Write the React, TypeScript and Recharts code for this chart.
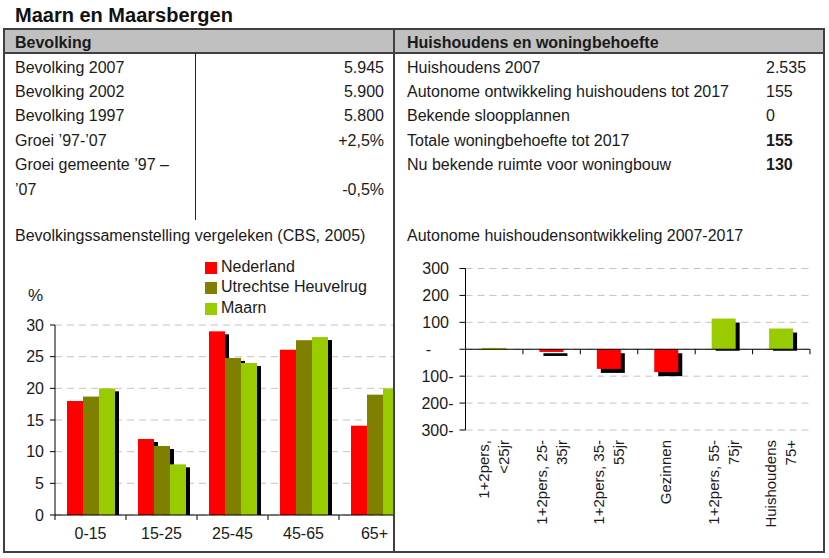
import React from 'react';
import { Bar, BarChart, CartesianGrid, Cell, ReferenceLine, XAxis, YAxis } from 'recharts';

const FONT = '"Liberation Sans", Arial, sans-serif';

// tabel Bevolking
const BEV_LABELS = ['Bevolking 2007', 'Bevolking 2002', 'Bevolking 1997', 'Groei ’97-’07', 'Groei gemeente ’97 –', '’07'];
const BEV_VALUES = ['5.945', '5.900', '5.800', '+2,5%', '', '-0,5%'];

// tabel Huishoudens en woningbehoefte
const HH_LABELS = [
  'Huishoudens 2007',
  'Autonome ontwikkeling huishoudens tot 2017',
  'Bekende sloopplannen',
  'Totale woningbehoefte tot 2017',
  'Nu bekende ruimte voor woningbouw',
];
const HH_VALUES = ['2.535', '155', '0', '155', '130'];
const HH_BOLD = [false, false, false, true, true];

// bevolkingssamenstelling (%)
const AGE_GROUPS = ['0-15', '15-25', '25-45', '45-65', '65+'];
const NEDERLAND = [18, 12, 29, 26.1, 14.1];
const HEUVELRUG = [18.7, 10.9, 24.8, 27.6, 19];
const MAARN = [20, 8, 24, 28.1, 20];
const PCT_TICKS = [0, 5, 10, 15, 20, 25, 30];

// autonome huishoudensontwikkeling
const HH_GROUPS = ['1+2pers,\n<25jr', '1+2pers, 25-\n35jr', '1+2pers, 35-\n55jr', 'Gezinnen', '1+2pers, 55-\n75jr', 'Huishoudens\n75+'];
const HH_CHANGE = [5, -10, -73, -85, 114, 77];
const HH_TICKS = [-300, -200, -100, 0, 100, 200, 300];

const RED = '#ff0000';
const OLIVE = '#808000';
const GREEN = '#99cc00';
const GRID = '#c4c4c4';
const BORDER = '#404040';

const LEFT_BAND = 71;
const RIGHT_BAND = 57.4;
const RIGHT_PLOT_H = 161.5;

const ageData = AGE_GROUPS.map((cat, i) => ({ cat, nl: NEDERLAND[i], uh: HEUVELRUG[i], maarn: MAARN[i] }));
const hhData = HH_GROUPS.map((cat, i) => ({ cat, v: HH_CHANGE[i] }));

// staaf met zwarte schaduw rechtsonder; baseOver = hoeveel de schaduw onder de basislijn mag komen (positieve staven)
function ShadowBar(props: any) {
  const { x, y, width, height, fill, dx, dy, up, baseOver } = props;
  if (x == null || y == null) return null;
  const top = Math.min(y, y + height);
  const h = Math.abs(height);
  const sh = up ? Math.max(0, h - dy + baseOver) : h;
  return (
    <g>
      <rect x={x + dx} y={top + dy} width={width} height={sh} fill="#000" />
      <rect x={x} y={top} width={width} height={h} fill={fill} />
    </g>
  );
}

function AgeTick(props: any) {
  const { x, y, payload, index } = props;
  return (
    <g>
      <line x1={x - LEFT_BAND / 2} x2={x - LEFT_BAND / 2} y1={y} y2={y + 5} stroke="#000" />
      {index === AGE_GROUPS.length - 1 && (
        <line x1={x + LEFT_BAND / 2} x2={x + LEFT_BAND / 2} y1={y} y2={y + 5} stroke="#000" />
      )}
      <text x={x} y={y + 24} textAnchor="middle" fontSize={16} fill="#1a1a1a" fontFamily={FONT}>
        {payload.value}
      </text>
    </g>
  );
}

function HhTick(props: any) {
  const { x, y, payload, index } = props;
  const lines = String(payload.value).split('\n');
  const zeroY = y - RIGHT_PLOT_H / 2;
  const cy = y + 10;
  const first = lines.length === 1 ? 5 : -5;
  return (
    <g>
      <line x1={x - RIGHT_BAND / 2} x2={x - RIGHT_BAND / 2} y1={zeroY} y2={zeroY + 5} stroke="#000" />
      {index === HH_GROUPS.length - 1 && (
        <line x1={x + RIGHT_BAND / 2} x2={x + RIGHT_BAND / 2} y1={zeroY} y2={zeroY + 5} stroke="#000" />
      )}
      <text x={x} y={cy} transform={`rotate(-90, ${x}, ${cy})`} textAnchor="end" fontSize={15} fill="#1a1a1a" fontFamily={FONT}>
        {lines.map((line, i) => (
          <tspan key={i} x={x} dy={i === 0 ? first : 20}>
            {line}
          </tspan>
        ))}
      </text>
    </g>
  );
}

function HhYTick(props: any) {
  const { x, y, payload } = props;
  const v = payload.value;
  let label = String(v);
  let tx = x - 4.5;
  let anchor: 'end' | 'middle' = 'end';
  if (v < 0) {
    label = `${-v}-`;
    tx = x;
  } else if (v === 0) {
    label = '-';
    tx = x - 25;
    anchor = 'middle';
  }
  return (
    <text x={tx} y={y} dy={5.5} textAnchor={anchor} fontSize={16} fill="#1a1a1a" fontFamily={FONT}>
      {label}
    </text>
  );
}

const abs = (left: number, top: number, extra: React.CSSProperties = {}): React.CSSProperties => ({
  position: 'absolute',
  left,
  top,
  ...extra,
});

const ROW_TOP = 55.6;
const ROW_H = 24.4;

export default function App() {
  return (
    <div style={{ position: 'absolute', left: 0, top: 0, width: 829, height: 558, background: '#fff', fontFamily: FONT, color: '#1a1a1a', overflow: 'hidden' }}>
      <div style={abs(15, 2, { fontSize: 20, fontWeight: 'bold', lineHeight: '26px', color: '#111' })}>Maarn en Maarsbergen</div>

      {/* header */}
      <div style={abs(3, 28, { width: 822, height: 25, background: '#c0c0c0' })} />
      <div style={abs(15, 31, { fontSize: 16, fontWeight: 'bold', lineHeight: '24px' })}>Bevolking</div>
      <div style={abs(407, 31, { fontSize: 16, fontWeight: 'bold', lineHeight: '24px' })}>Huishoudens en woningbehoefte</div>

      {/* left table */}
      {BEV_LABELS.map((label, i) => (
        <div key={label} style={abs(15, ROW_TOP + i * ROW_H, { fontSize: 16, lineHeight: `${ROW_H}px`, whiteSpace: 'nowrap' })}>
          {label}
        </div>
      ))}
      {BEV_VALUES.map((value, i) => (
        <div key={i} style={abs(200, ROW_TOP + i * ROW_H, { width: 184, textAlign: 'right', fontSize: 16, lineHeight: `${ROW_H}px` })}>
          {value}
        </div>
      ))}

      {/* right table */}
      {HH_LABELS.map((label, i) => (
        <div key={label} style={abs(407, ROW_TOP + i * ROW_H, { fontSize: 16, lineHeight: `${ROW_H}px`, whiteSpace: 'nowrap' })}>
          {label}
        </div>
      ))}
      {HH_VALUES.map((value, i) => (
        <div key={i} style={abs(766, ROW_TOP + i * ROW_H, { fontSize: 16, lineHeight: `${ROW_H}px`, fontWeight: HH_BOLD[i] ? 'bold' : 'normal' })}>
          {value}
        </div>
      ))}

      {/* chart titles */}
      <div style={abs(15, 224, { fontSize: 16, lineHeight: `${ROW_H}px`, whiteSpace: 'nowrap' })}>Bevolkingssamenstelling vergeleken (CBS, 2005)</div>
      <div style={abs(407, 224, { fontSize: 16, lineHeight: `${ROW_H}px`, whiteSpace: 'nowrap' })}>Autonome huishoudensontwikkeling 2007-2017</div>

      {/* left chart */}
      <div style={abs(0, 0, { width: 393, height: 553, overflow: 'hidden' })}>
        <BarChart width={420} height={553} data={ageData} margin={{ top: 325, right: 10, bottom: 8, left: 15 }} barCategoryGap={12} barGap={0}>
          <CartesianGrid vertical={false} stroke={GRID} strokeDasharray="7 5" />
          <XAxis dataKey="cat" height={30} interval={0} tickSize={0} tickMargin={0} tickLine={false} axisLine={{ stroke: '#000' }} tick={<AgeTick />} />
          <YAxis
            domain={[0, 30]}
            ticks={PCT_TICKS}
            width={40}
            tickSize={5}
            tickMargin={6}
            axisLine={{ stroke: '#000' }}
            tickLine={{ stroke: '#000' }}
            tick={{ fontSize: 16, fill: '#1a1a1a', fontFamily: FONT }}
          />
          <Bar dataKey="nl" fill={RED} isAnimationActive={false} shape={(p: any) => <ShadowBar {...p} dx={4} dy={3} up baseOver={0} />} />
          <Bar dataKey="uh" fill={OLIVE} isAnimationActive={false} shape={(p: any) => <ShadowBar {...p} dx={4} dy={3} up baseOver={0} />} />
          <Bar dataKey="maarn" fill={GREEN} isAnimationActive={false} shape={(p: any) => <ShadowBar {...p} dx={4} dy={3} up baseOver={0} />} />
        </BarChart>
      </div>

      {/* legend */}
      {[
        ['Nederland', RED],
        ['Utrechtse Heuvelrug', OLIVE],
        ['Maarn', GREEN],
      ].map(([name, color], i) => (
        <div key={name} style={abs(205, 256.5 + i * 20.6, { height: 20.6, fontSize: 16, lineHeight: '20.6px', whiteSpace: 'nowrap' })}>
          <span style={{ position: 'absolute', left: 0, top: 5, width: 12, height: 12, background: color }} />
          <span style={{ position: 'absolute', left: 16, top: 0 }}>{name}</span>
        </div>
      ))}
      <div style={abs(28, 285.8, { fontSize: 17, lineHeight: '20px' })}>%</div>

      {/* right chart */}
      <div style={abs(395, 0, { width: 434, height: 553 })}>
        <BarChart width={434} height={553} data={hhData} margin={{ top: 268.5, right: 19, bottom: 23, left: 10.5 }} barCategoryGap={16.5}>
          <CartesianGrid vertical={false} stroke={GRID} strokeDasharray="7 5" />
          <XAxis dataKey="cat" height={100} interval={0} tickSize={0} tickMargin={0} tickLine={false} axisLine={false} tick={<HhTick />} />
          <YAxis
            domain={[-300, 300]}
            ticks={HH_TICKS}
            width={60}
            tickSize={6}
            tickMargin={6}
            axisLine={{ stroke: '#000' }}
            tickLine={{ stroke: '#000' }}
            tick={<HhYTick />}
          />
          <Bar dataKey="v" isAnimationActive={false} shape={(p: any) => <ShadowBar {...p} dx={4} dy={4} up={p.payload && p.payload.v >= 0} baseOver={1.5} />}>
            {hhData.map((d) => (
              <Cell key={d.cat} fill={d.v >= 0 ? GREEN : RED} />
            ))}
          </Bar>
          <ReferenceLine y={0} stroke="#000" />
        </BarChart>
      </div>

      {/* borders */}
      <div style={abs(3, 28, { width: 822, height: 525, border: `2px solid ${BORDER}`, boxSizing: 'border-box' })} />
      <div style={abs(3, 52, { width: 822, height: 2, background: BORDER })} />
      <div style={abs(393, 28, { width: 2, height: 525, background: BORDER })} />
      <div style={abs(194.5, 53, { width: 1.5, height: 167, background: '#222' })} />
    </div>
  );
}
